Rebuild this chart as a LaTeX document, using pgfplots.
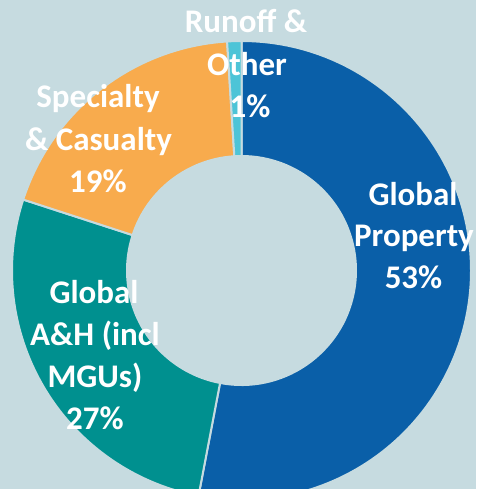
\documentclass[border=0pt]{standalone}
\usepackage{pgfplots}
\pgfplotsset{compat=1.18}
\usepackage{pgfplotstable}
\usepackage{fontspec}
\setmainfont{Carlito}
\definecolor{bgc}{HTML}{C6DBE0}
\definecolor{gprop}{HTML}{0A5FA8}
\definecolor{gah}{HTML}{00908F}
\definecolor{spec}{HTML}{F8AB4D}
\definecolor{runoff}{HTML}{4DC4D7}

% share of each segment, clockwise from 12 o'clock
\pgfplotstableread{
share
53
27
19
1
}\sharetable

\begin{document}
\begin{tikzpicture}
\useasboundingbox (0,0) rectangle (476pt,-489pt);
\fill[bgc] (0,0) rectangle (476pt,-489pt);

\pgfplotstablegetelem{0}{share}\of\sharetable \let\sA\pgfplotsretval
\pgfplotstablegetelem{1}{share}\of\sharetable \let\sB\pgfplotsretval
\pgfplotstablegetelem{2}{share}\of\sharetable \let\sC\pgfplotsretval
\pgfplotstablegetelem{3}{share}\of\sharetable \let\sD\pgfplotsretval
\pgfmathsetmacro\aA{90}
\pgfmathsetmacro\aB{\aA-3.6*\sA}
\pgfmathsetmacro\aC{\aB-3.6*\sB}
\pgfmathsetmacro\aD{\aC-3.6*\sC}
\pgfmathsetmacro\aE{\aD-3.6*\sD}
\def\cx{241.5}\def\cy{270.5}
\def\Ro{229.5pt}\def\Ri{114.5pt}\def\Rd{115pt}

\tikzset{
    seg/.style={fill=#1, draw=bgc, line width=2pt, line join=round},
    lbl/.style={text=white, inner sep=0pt, anchor=base,
        font=\fontsize{33}{40}\selectfont\bfseries},
}
\begin{axis}[
    at={(0,0)}, anchor=north west,
    scale only axis,
    width=476pt, height=489pt,
    xmin=0, xmax=476, ymin=0, ymax=489,
    y dir=reverse,
    hide axis,
]
\path[seg=gprop] (axis cs:\cx,\cy) ++(\aA:\Ro) arc[start angle=\aA, end angle=\aB, radius=\Ro]
    -- ++(\aB:-\Rd) arc[start angle=\aB, end angle=\aA, radius=\Ri] -- cycle;
\path[seg=gah] (axis cs:\cx,\cy) ++(\aB:\Ro) arc[start angle=\aB, end angle=\aC, radius=\Ro]
    -- ++(\aC:-\Rd) arc[start angle=\aC, end angle=\aB, radius=\Ri] -- cycle;
\path[seg=spec] (axis cs:\cx,\cy) ++(\aC:\Ro) arc[start angle=\aC, end angle=\aD, radius=\Ro]
    -- ++(\aD:-\Rd) arc[start angle=\aD, end angle=\aC, radius=\Ri] -- cycle;
\path[seg=runoff] (axis cs:\cx,\cy) ++(\aD:\Ro) arc[start angle=\aD, end angle=\aE, radius=\Ro]
    -- ++(\aE:-\Rd) arc[start angle=\aE, end angle=\aD, radius=\Ri] -- cycle;

\node[lbl] at (axis cs:246,32) {Runoff \&};
\node[lbl] at (axis cs:247,75) {Other};
\node[lbl] at (axis cs:250,117) {1\%};

\node[lbl] at (axis cs:98,107) {Specialty};
\node[lbl] at (axis cs:98.5,150) {\& Casualty};
\node[lbl] at (axis cs:98,192) {19\%};

\node[lbl] at (axis cs:413,205) {Global};
\node[lbl] at (axis cs:414,246) {Property};
\node[lbl] at (axis cs:413.5,288) {53\%};

\node[lbl] at (axis cs:94,303) {Global};
\node[lbl] at (axis cs:95,345) {A\&H (incl};
\node[lbl] at (axis cs:95,387) {MGUs)};
\node[lbl] at (axis cs:95,429) {27\%};
\end{axis}
\end{tikzpicture}
\end{document}
